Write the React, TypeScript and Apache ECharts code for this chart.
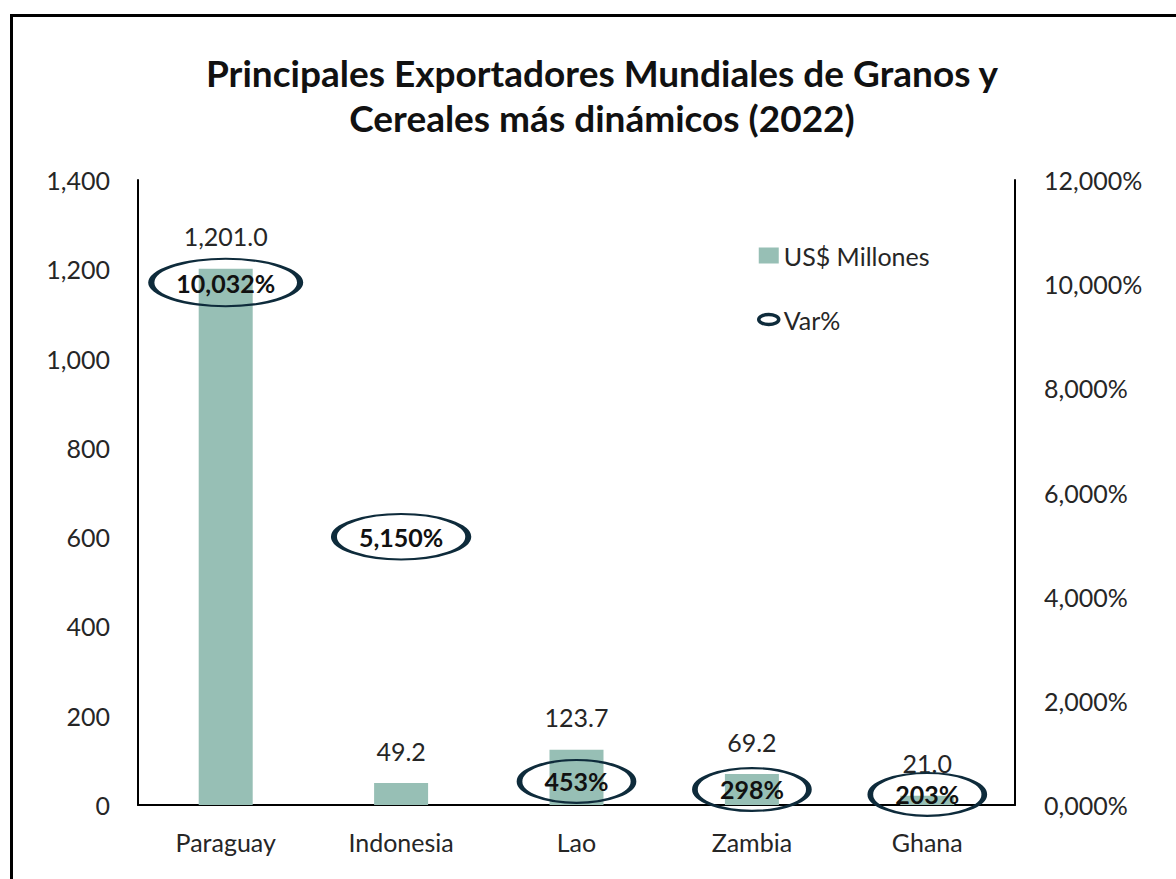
import React, { useEffect, useRef } from "react";
import * as echarts from "echarts";

const categories = ["Paraguay", "Indonesia", "Lao", "Zambia", "Ghana"];
const usdMillones = [1201.0, 49.2, 123.7, 69.2, 21.0];
const varPct = [10032, 5150, 453, 298, 203];

const FONT = "Lato";
const ELLIPSE = "path://M0,20 A40,20 0 1,1 80,20 A40,20 0 1,1 0,20 Z";
const NAVY = "#0e2b3b";

function fmtPct(v: number): string {
  const s = Math.round(v).toString();
  const padded = s.length < 4 ? s.padStart(4, "0") : s;
  return padded.replace(/\B(?=(\d{3})+(?!\d))/g, ",") + "%";
}
function fmtPctLabel(v: number): string {
  return Math.round(v).toString().replace(/\B(?=(\d{3})+(?!\d))/g, ",") + "%";
}

let measureCtx: CanvasRenderingContext2D | null = null;
function textWidth(t: string): number {
  if (!measureCtx) measureCtx = document.createElement("canvas").getContext("2d");
  if (!measureCtx) return t.length * 14;
  measureCtx.font = `bold 25px ${FONT}`;
  return measureCtx.measureText(t).width;
}

export default function App() {
  const ref = useRef<HTMLDivElement>(null);
  useEffect(() => {
    if (!ref.current) return;
    const chart = echarts.init(ref.current, undefined, { renderer: "svg" });
    chart.setOption({
      animation: false,
      backgroundColor: "#ffffff",
      textStyle: { fontFamily: FONT },
      title: {
        text: "Principales Exportadores Mundiales de Granos y\nCereales más dinámicos (2022)",
        left: 597,
        top: 45,
        textAlign: "center",
        textStyle: { fontFamily: FONT, fontSize: 37, fontWeight: "bold", color: "#111", lineHeight: 45 },
      },
      graphic: [
        {
          type: "rect",
          shape: { x: 11.5, y: 15.5, width: 1200, height: 900 },
          style: { fill: "none", stroke: "#000", lineWidth: 3 },
          silent: true,
        },
      ],
      legend: {
        orient: "vertical",
        left: 752,
        top: 238,
        itemGap: 39,
        itemWidth: 20,
        itemHeight: 16,
        textStyle: { fontFamily: FONT, fontSize: 25, color: "#262626" },
        data: [
          { name: "US$ Millones", icon: "rect", itemStyle: { color: "#97bfb5" } },
          {
            name: "Var%",
            icon: ELLIPSE,
            itemStyle: { color: "rgba(0,0,0,0)", borderColor: NAVY, borderWidth: 3.5 },
          },
        ],
      },
      grid: { left: 138, right: 161, top: 180, bottom: 74, containLabel: false },
      xAxis: {
        type: "category",
        data: categories,
        axisLine: { show: true, lineStyle: { color: "#000", width: 2 } },
        axisTick: { show: false },
        axisLabel: { margin: 24, fontFamily: FONT, fontSize: 25, color: "#262626" },
      },
      yAxis: [
        {
          type: "value",
          min: 0,
          max: 1400,
          interval: 200,
          axisLine: { show: true, lineStyle: { color: "#000", width: 2 } },
          axisTick: { show: false },
          splitLine: { show: false },
          axisLabel: {
            margin: 28,
            fontFamily: FONT,
            fontSize: 25,
            color: "#262626",
            formatter: (v: number) => v.toLocaleString("en-US"),
          },
        },
        {
          type: "value",
          min: 0,
          max: 12000,
          interval: 2000,
          position: "right",
          axisLine: { show: true, lineStyle: { color: "#000", width: 2 } },
          axisTick: { show: false },
          splitLine: { show: false },
          axisLabel: {
            margin: 29,
            fontFamily: FONT,
            fontSize: 25,
            color: "#262626",
            formatter: (v: number) => fmtPct(v),
          },
        },
      ],
      series: [
        {
          name: "US$ Millones",
          type: "bar",
          yAxisIndex: 0,
          data: usdMillones,
          barWidth: 54,
          itemStyle: { color: "#97bfb5" },
          label: {
            show: true,
            position: "top",
            distance: 20,
            fontFamily: FONT,
            fontSize: 25,
            color: "#262626",
            formatter: (p: any) =>
              Number(p.value).toLocaleString("en-US", { minimumFractionDigits: 1, maximumFractionDigits: 1 }),
          },
          z: 2,
        },
        {
          name: "Var%",
          type: "scatter",
          yAxisIndex: 1,
          data: varPct,
          symbol: ELLIPSE,
          symbolSize: (v: number) => {
            const w = textWidth(fmtPctLabel(v)) + 50;
            return [w, 28 + w * 0.13];
          },
          itemStyle: { color: "rgba(0,0,0,0)", borderColor: NAVY, borderWidth: 3.5, opacity: 1 },
          label: {
            show: true,
            position: "inside",
            fontFamily: FONT,
            fontSize: 25,
            fontWeight: "bold",
            color: "#111",
            formatter: (p: any) => fmtPctLabel(Number(p.value)),
          },
          emphasis: { disabled: true },
          z: 5,
        },
      ],
    });
    return () => chart.dispose();
  }, []);
  return (
    <div
      ref={ref}
      style={{ position: "absolute", left: 0, top: 0, width: 1176, height: 879 }}
    />
  );
}
